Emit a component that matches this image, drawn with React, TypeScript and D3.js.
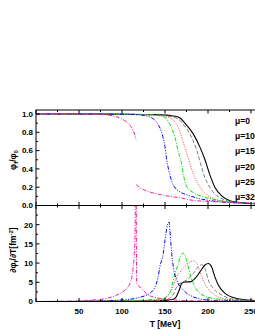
import * as React from "react";
import * as d3 from "d3";

// order parameter phi/phi0 vs T, one array pair per chemical potential
const tMu0: number[] = [0, 50, 100, 140, 155, 162, 167, 175, 183, 191, 196.5, 202, 208, 216, 226, 240, 255, 280, 300];
const phiMu0: number[] = [1.0, 1.0, 0.998, 0.993, 0.985, 0.975, 0.96, 0.88, 0.78, 0.63, 0.5, 0.34, 0.2, 0.105, 0.05, 0.03, 0.02, 0.012, 0.01];
const tMu100: number[] = [0, 50, 100, 140, 152, 160, 166, 172, 179, 187, 191, 195, 202, 210, 220, 235, 255, 280, 300];
const phiMu100: number[] = [1.0, 1.0, 0.998, 0.99, 0.98, 0.965, 0.94, 0.88, 0.78, 0.6, 0.47, 0.34, 0.2, 0.11, 0.06, 0.032, 0.02, 0.013, 0.01];
const tMu150: number[] = [0, 50, 100, 135, 148, 155, 160, 165.5, 171, 177, 183, 191, 198, 208, 222, 240, 260, 300];
const phiMu150: number[] = [1.0, 1.0, 0.998, 0.99, 0.975, 0.96, 0.93, 0.85, 0.7, 0.52, 0.34, 0.2, 0.12, 0.07, 0.04, 0.025, 0.018, 0.01];
const tMu200: number[] = [0, 50, 100, 130, 140, 148, 156, 161.6, 165.5, 169.4, 171.3, 175.2, 183, 194.5, 210, 230, 260, 300];
const phiMu200: number[] = [1.0, 1.0, 0.997, 0.99, 0.985, 0.975, 0.88, 0.74, 0.59, 0.45, 0.34, 0.21, 0.14, 0.095, 0.06, 0.035, 0.02, 0.01];
const tMu250: number[] = [0, 50, 100, 120, 130, 136, 141, 146, 150, 152, 154, 156, 158, 162, 168, 176, 190, 210, 240, 300];
const phiMu250: number[] = [1.0, 1.0, 0.998, 0.99, 0.975, 0.95, 0.9, 0.8, 0.64, 0.5, 0.4, 0.32, 0.26, 0.19, 0.145, 0.115, 0.075, 0.045, 0.025, 0.01];
// first order transition: two branches
const tMu320a: number[] = [0, 40, 60, 74, 86, 92, 101, 109, 113, 115, 116.3];
const phiMu320a: number[] = [1.0, 1.0, 0.998, 0.995, 0.985, 0.975, 0.94, 0.88, 0.82, 0.77, 0.72];
const tMu320b: number[] = [116.5, 120, 126, 133, 142, 155, 167, 183, 200, 230, 260, 300];
const phiMu320b: number[] = [0.23, 0.2, 0.17, 0.145, 0.125, 0.1, 0.085, 0.055, 0.045, 0.033, 0.024, 0.015];

// d phi / dT
const tdMu0: number[] = [0, 80, 120, 150, 158, 161.6, 166.6, 169.4, 173.3, 179, 185, 190.7, 196.5, 200.3, 204.3, 208, 212, 219.8, 233.4, 252, 280, 300];
const dMu0: number[] = [0, 0.03, 0.1, 0.3, 0.5, 0.8, 3.0, 4.7, 5.1, 5.1, 6.0, 7.7, 9.5, 9.9, 9.0, 6.4, 4.3, 2.1, 0.8, 0.3, 0.1, 0.05];
const tdMu100: number[] = [0, 80, 120, 145, 155, 160, 163.6, 167.4, 175.2, 182.9, 188.7, 192.7, 196.5, 200.3, 206.2, 215.9, 229.4, 260, 300];
const dMu100: number[] = [0, 0.05, 0.15, 0.3, 0.8, 2.0, 3.8, 4.7, 5.6, 7.3, 9.0, 9.6, 8.6, 5.6, 3.4, 1.7, 0.6, 0.15, 0.05];
const tdMu150: number[] = [0, 80, 120, 144, 152, 157.8, 163.6, 169.4, 177.1, 182.9, 186.9, 192.7, 198.5, 208, 222, 250, 300];
const dMu150: number[] = [0, 0.05, 0.2, 0.4, 1.2, 3.0, 6.4, 8.2, 9.9, 10.6, 9.9, 6.4, 3.8, 1.7, 0.6, 0.2, 0.05];
const tdMu200: number[] = [0, 80, 120, 140, 148, 156, 159.7, 162, 165.5, 168, 171.3, 174, 177, 180, 183, 190.7, 206, 230, 260, 300];
const dMu200: number[] = [0, 0.1, 0.3, 0.6, 0.8, 2.5, 5.6, 7.5, 9.9, 11.8, 12.6, 11.5, 9.0, 6.5, 4.7, 2.1, 0.8, 0.3, 0.12, 0.04];
const tdMu250: number[] = [0, 60, 100, 121, 134.5, 142, 144, 148, 150, 152, 154.7, 156.5, 157.8, 159.7, 163.6, 171.3, 183, 198.5, 220, 260, 300];
const dMu250: number[] = [0, 0.1, 0.4, 1.1, 2.5, 6.4, 9.0, 12.5, 16, 19, 20.7, 16, 12.5, 9.0, 5.6, 3.0, 1.2, 0.4, 0.2, 0.08, 0.03];
const tdMu320: number[] = [0, 40, 67, 82, 94, 103.5, 109.3, 113, 115, 116.0, 116.3, 117.1, 122.9, 130.6, 144, 160, 180, 220, 300];
const dMu320: number[] = [0, 0.05, 0.4, 0.8, 1.7, 3.0, 4.7, 9.0, 16, 32, 32, 4.7, 3.4, 1.7, 0.8, 0.4, 0.2, 0.1, 0.03];

const legendLabels: string[] = ["\u03bc=0", "\u03bc=100", "\u03bc=150", "\u03bc=200", "\u03bc=250", "\u03bc=320"];
const xTickLabels: number[] = [50, 100, 150, 200, 250, 300];
const phiTicks: number[] = [0, 0.2, 0.4, 0.6, 0.8, 1.0];
const dTicks: number[] = [0, 5, 10, 15, 20];

interface Style {
    color: string;
    dash: string;
}

const styles: Style[] = [
    { color: "#000000", dash: "" },
    { color: "#7a7a7a", dash: "4,2" },
    { color: "#ff3b3b", dash: "1,1.5" },
    { color: "#00dd00", dash: "4,1.5,1,1.5" },
    { color: "#0000ff", dash: "4,1.5,1,1.5,1,1.5" },
    { color: "#ff1a99", dash: "4,1.5,1,1.5" }
];

const font: string = "'Liberation Sans', Arial, sans-serif";

class App extends React.PureComponent {
    private ref: React.RefObject<SVGSVGElement> = React.createRef<SVGSVGElement>();
    private left: number = 36;
    private right: number = 294;

    public componentDidMount(): void {
        this.drawGraph();
    }

    public render(): JSX.Element {
        return <div style={{ position: "fixed", left: 0, top: 0, width: 255, height: 330, overflow: "hidden", background: "#fff" }}>
            <svg ref={this.ref} width={320} height={330} />
        </div>;
    }

    private zip(t: number[], v: number[]): [number, number][] {
        return t.map((x: number, i: number): [number, number] => [x, v[i]]);
    }

    private drawPanel(svg: d3.Selection<SVGSVGElement, unknown, null, undefined>, id: string,
                      top: number, bottom: number, y: d3.ScaleLinear<number, number>,
                      x: d3.ScaleLinear<number, number>, yTicks: number[], yMinor: number[],
                      fmt: (d: number) => string, series: [number, number][][][], xLabels: boolean): void {
        const g = svg.append("g");
        g.append("defs").append("clipPath").attr("id", id)
            .append("rect").attr("x", this.left).attr("y", top)
            .attr("width", this.right - this.left).attr("height", bottom - top);

        const line = d3.line<[number, number]>()
            .x((d) => x(d[0]))
            .y((d) => y(d[1]))
            .curve(d3.curveMonotoneX);

        const lines = g.append("g").attr("clip-path", `url(#${id})`);
        series.forEach((parts: [number, number][][], i: number) => {
            parts.forEach((pts: [number, number][]) => {
                lines.append("path")
                    .attr("d", line(pts))
                    .attr("fill", "none")
                    .attr("stroke", styles[i].color)
                    .attr("stroke-width", i === 0 ? 1.1 : 1)
                    .attr("stroke-dasharray", styles[i].dash);
            });
        });

        // frame
        g.append("rect").attr("x", this.left).attr("y", top)
            .attr("width", this.right - this.left).attr("height", bottom - top)
            .attr("fill", "none").attr("stroke", "#000").attr("stroke-width", 1);

        // x ticks (inward, top and bottom)
        const xMajor: number[] = d3.range(0, 301, 50);
        const xMinor: number[] = d3.range(25, 300, 50);
        [[bottom, -1], [top, 1]].forEach(([yy, dir]: number[]) => {
            xMajor.forEach((t: number) => {
                g.append("line").attr("x1", x(t)).attr("x2", x(t))
                    .attr("y1", yy).attr("y2", yy + dir * 3.5).attr("stroke", "#000");
            });
            xMinor.forEach((t: number) => {
                g.append("line").attr("x1", x(t)).attr("x2", x(t))
                    .attr("y1", yy).attr("y2", yy + dir * 2).attr("stroke", "#000");
            });
        });

        // y ticks
        [[this.left, 1], [this.right, -1]].forEach(([xx, dir]: number[]) => {
            yTicks.forEach((v: number) => {
                g.append("line").attr("x1", xx).attr("x2", xx + dir * 3.5)
                    .attr("y1", y(v)).attr("y2", y(v)).attr("stroke", "#000");
            });
            yMinor.forEach((v: number) => {
                g.append("line").attr("x1", xx).attr("x2", xx + dir * 2)
                    .attr("y1", y(v)).attr("y2", y(v)).attr("stroke", "#000");
            });
        });

        g.selectAll(".ylab").data(yTicks).enter().append("text")
            .attr("x", this.left - 3)
            .attr("y", (v: number) => y(v))
            .attr("dy", "0.35em")
            .attr("text-anchor", "end")
            .attr("font-family", font)
            .attr("font-weight", "bold")
            .attr("font-size", 8)
            .text(fmt);

        if (xLabels) {
            g.selectAll(".xlab").data(xTickLabels).enter().append("text")
                .attr("x", (t: number) => x(t))
                .attr("y", bottom + 12.5)
                .attr("text-anchor", "middle")
                .attr("font-family", font)
                .attr("font-weight", "bold")
                .attr("font-size", 8)
                .text((t: number) => `${t}`);
        }
    }

    private drawGraph(): void {
        const svg = d3.select(this.ref.current as SVGSVGElement);
        svg.selectAll("*").remove();

        const x = d3.scaleLinear().domain([0, 300]).range([this.left, this.right]);
        const yTop = d3.scaleLinear().domain([0, 1.044]).range([205.5, 110]);
        const yBot = d3.scaleLinear().domain([0, 25]).range([301.5, 205.5]);

        const phiSeries: [number, number][][][] = [
            [this.zip(tMu0, phiMu0)],
            [this.zip(tMu100, phiMu100)],
            [this.zip(tMu150, phiMu150)],
            [this.zip(tMu200, phiMu200)],
            [this.zip(tMu250, phiMu250)],
            [this.zip(tMu320a, phiMu320a), this.zip(tMu320b, phiMu320b)]
        ];
        const dSeries: [number, number][][][] = [
            [this.zip(tdMu0, dMu0)],
            [this.zip(tdMu100, dMu100)],
            [this.zip(tdMu150, dMu150)],
            [this.zip(tdMu200, dMu200)],
            [this.zip(tdMu250, dMu250)],
            [this.zip(tdMu320, dMu320)]
        ];

        this.drawPanel(svg, "clipTop", 110, 205.5, yTop, x, phiTicks, [0.1, 0.3, 0.5, 0.7, 0.9],
            (v: number) => v.toFixed(1), phiSeries, false);
        this.drawPanel(svg, "clipBot", 205.5, 301.5, yBot, x, dTicks, [2.5, 7.5, 12.5, 17.5, 22.5],
            (v: number) => `${v}`, dSeries, true);

        // legend
        const legend = svg.append("g");
        legendLabels.forEach((label: string, i: number) => {
            const yy: number = 121 + i * 15.2;
            legend.append("text")
                .attr("x", 235).attr("y", yy).attr("dy", "0.35em")
                .attr("font-family", font).attr("font-weight", "bold").attr("font-size", 8.5)
                .text(label);
            legend.append("line")
                .attr("x1", 266).attr("x2", 290).attr("y1", yy).attr("y2", yy)
                .attr("stroke", styles[i].color).attr("stroke-dasharray", styles[i].dash);
        });

        // axis titles
        svg.append("text")
            .attr("x", 165).attr("y", 327)
            .attr("text-anchor", "middle")
            .attr("font-family", font).attr("font-weight", "bold").attr("font-size", 8.5)
            .text("T [MeV]");

        const t1 = svg.append("text")
            .attr("transform", "translate(16,160) rotate(-90)")
            .attr("text-anchor", "middle")
            .attr("font-family", font).attr("font-weight", "bold").attr("font-size", 8.5);
        t1.append("tspan").text("\u03c6");
        t1.append("tspan").attr("font-size", 6).attr("dy", 2).text("f");
        t1.append("tspan").attr("dy", -2).text("/\u03c6");
        t1.append("tspan").attr("font-size", 6).attr("dy", 2).text("0");

        const t2 = svg.append("text")
            .attr("transform", "translate(16,250) rotate(-90)")
            .attr("text-anchor", "middle")
            .attr("font-family", font).attr("font-weight", "bold").attr("font-size", 8.5);
        t2.append("tspan").text("\u2202\u03c6");
        t2.append("tspan").attr("font-size", 6).attr("dy", 2).text("f");
        t2.append("tspan").attr("dy", -2).text("/\u2202T[fm");
        t2.append("tspan").attr("font-size", 6).attr("dy", -3).text("-2");
        t2.append("tspan").attr("dy", 3).text("]");
    }
}

export default App;
